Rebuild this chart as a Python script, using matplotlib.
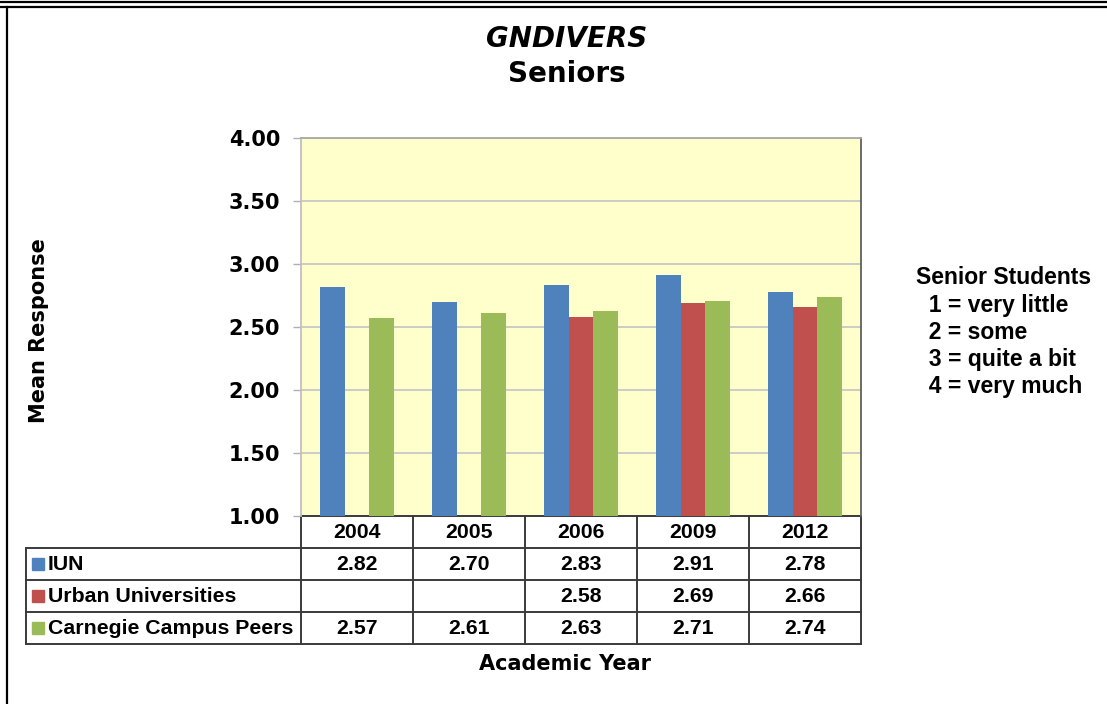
import numpy as np
import matplotlib
matplotlib.use("Agg")
import matplotlib.pyplot as plt
from matplotlib import transforms
from matplotlib.lines import Line2D
from matplotlib.patches import Rectangle

# data
years = ["2004", "2005", "2006", "2009", "2012"]
series = ["IUN", "Urban Universities", "Carnegie Campus Peers"]
iun = [2.82, 2.70, 2.83, 2.91, 2.78]
urban = [np.nan, np.nan, 2.58, 2.69, 2.66]
carnegie = [2.57, 2.61, 2.63, 2.71, 2.74]
colors = ["#4F81BD", "#C0504D", "#9BBB59"]
yticks = [1.0, 1.5, 2.0, 2.5, 3.0, 3.5, 4.0]
scale_notes = ["Senior Students", "  1 = very little", "  2 = some",
               "  3 = quite a bit", "  4 = very much"]

W, H = 1107, 704
fig = plt.figure(figsize=(W / 100, H / 100), dpi=100)


def fx(x):
    return x / W


def fy(y):
    return 1 - y / H


# outer frame: double line on top, single line on the left
for y in (1.5, 6.5):
    fig.add_artist(Line2D([0, 1], [fy(y), fy(y)], transform=fig.transFigure,
                          color="black", lw=1.6))
fig.add_artist(Line2D([fx(7), fx(7)], [fy(6.5), 0], transform=fig.transFigure,
                      color="black", lw=1.6))

ax = fig.add_axes([fx(301), fy(516), 560 / W, 378 / H])
ax.set_facecolor("#FFFFCC")

x = np.arange(len(years))
w = 0.22
for k, (vals, c) in enumerate(zip([iun, urban, carnegie], colors)):
    vals = np.array(vals, dtype=float)
    ok = ~np.isnan(vals)
    ax.bar(x[ok] + (k - 1) * w, vals[ok], width=w, color=c, zorder=3)

ax.set_xlim(-0.5, len(years) - 0.5)
ax.set_ylim(1, 4)
ax.set_yticks(yticks)
ax.set_yticklabels([f"{t:.2f}" for t in yticks], fontsize=15, fontweight="bold")
ax.set_xticks([])
ax.tick_params(axis="y", length=6, width=1, color="#b0b0b0", pad=9)
ax.yaxis.grid(True, color="#c8c8c8", lw=1.3, zorder=0)
ax.set_axisbelow(True)
ax.spines["left"].set_color("#c0c0c0")
ax.spines["top"].set_color("#a8a8a8")
ax.spines["right"].set_color("#606060")
ax.spines["bottom"].set_visible(False)
for s in ("left", "top", "right"):
    ax.spines[s].set_linewidth(1.3)

# data table under the plot
trans = transforms.blended_transform_factory(ax.transData, ax.transAxes)
rows_px = [516, 548, 580, 612, 644]
ry = [(516 - p) / 378 for p in rows_px]
left = -0.5 - 275 / 112
right = len(years) - 0.5
tcol = "#3a3a3a"
tlw = 1.4

ax.plot([-0.5, right], [ry[0], ry[0]], transform=trans, color=tcol, lw=tlw, clip_on=False)
for y in ry[1:]:
    ax.plot([left, right], [y, y], transform=trans, color=tcol, lw=tlw, clip_on=False)
for b in np.arange(-0.5, len(years)):
    ax.plot([b, b], [ry[0], ry[-1]], transform=trans, color=tcol, lw=tlw, clip_on=False)
ax.plot([left, left], [ry[1], ry[-1]], transform=trans, color=tcol, lw=tlw, clip_on=False)

tfont = dict(family="Liberation Sans", fontweight="bold", fontsize=15.3)
for i, yr in enumerate(years):
    ax.text(i, (ry[0] + ry[1]) / 2, yr, transform=trans, ha="center", va="center", **tfont)
for r, (name, vals, c) in enumerate(zip(series, [iun, urban, carnegie], colors)):
    ymid = (ry[r + 1] + ry[r + 2]) / 2
    for i, v in enumerate(vals):
        if not np.isnan(v):
            ax.text(i, ymid, f"{v:.2f}", transform=trans, ha="center", va="center", **tfont)
    ypx = (rows_px[r + 1] + rows_px[r + 2]) / 2
    fig.add_artist(Rectangle((fx(32), fy(ypx + 6)), 12 / W, 12 / H,
                             transform=fig.transFigure, color=c))
    fig.text(fx(48), fy(ypx), name, ha="left", va="center", **tfont)

# titles and axis labels
fig.text(fx(567), fy(39), "GNDIVERS", ha="center", va="center",
         fontsize=20, fontweight="bold", fontstyle="italic")
fig.text(fx(567), fy(74), "Seniors", ha="center", va="center",
         fontsize=20, fontweight="bold")
fig.text(fx(39), fy(331), "Mean Response", rotation=90, ha="center", va="center",
         fontsize=15, fontweight="bold")
fig.text(fx(565), fy(664), "Academic Year", ha="center", va="center",
         fontsize=15, fontweight="bold")

# response scale note on the right
for j, line in enumerate(scale_notes):
    fig.text(fx(916), fy(278 + 27.2 * j), line, ha="left", va="center",
             family="Liberation Sans", fontweight="bold", fontsize=16.5)

fig.savefig("out.png", dpi=100)
